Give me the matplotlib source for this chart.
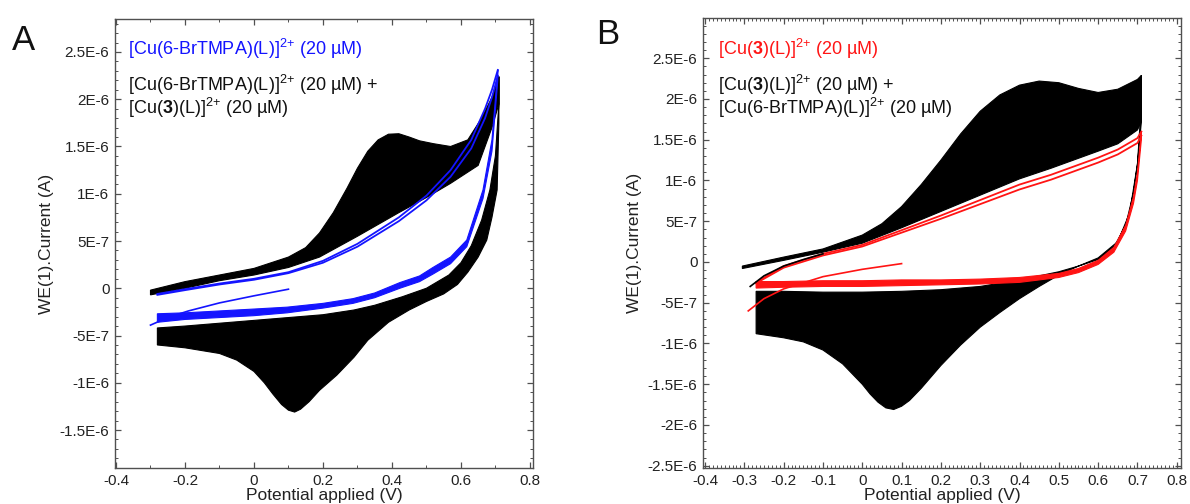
import numpy as np
import matplotlib
matplotlib.use("Agg")
import matplotlib.pyplot as plt
from matplotlib.ticker import MultipleLocator, FuncFormatter

plt.rcParams['font.family'] = ['Liberation Sans', 'DejaVu Sans']
plt.rcParams['mathtext.fontset'] = 'custom'
plt.rcParams['mathtext.rm'] = 'Liberation Sans'
plt.rcParams['mathtext.bf'] = 'Liberation Sans:bold'
plt.rcParams['mathtext.it'] = 'Liberation Sans:italic'

# ---- panel A data (potential in V, current in 1e-6 A) ----
# black: mixture, outer = last cycle, inner = first cycle
A_ox_out_E = [-0.30, -0.20, -0.10, 0.00, 0.10, 0.15, 0.19, 0.23, 0.27, 0.30, 0.33, 0.36, 0.39,
              0.42, 0.45, 0.48, 0.52, 0.57, 0.62, 0.66, 0.69, 0.70, 0.71]
A_ox_out_I = [-0.02, 0.07, 0.14, 0.21, 0.33, 0.43, 0.585, 0.80, 1.06, 1.27, 1.45, 1.57, 1.63,
              1.635, 1.60, 1.56, 1.53, 1.50, 1.57, 1.80, 2.02, 2.12, 2.24]
A_ox_in_E = [-0.30, -0.20, -0.10, 0.00, 0.10, 0.19, 0.30, 0.42, 0.50, 0.57, 0.65, 0.69, 0.71]
A_ox_in_I = [-0.07, 0.00, 0.08, 0.14, 0.22, 0.33, 0.55, 0.80, 0.96, 1.11, 1.30, 1.70, 1.95]
A_red_out_E = [0.71, 0.71, 0.705, 0.69, 0.675, 0.65, 0.62, 0.59, 0.55, 0.50, 0.45, 0.39, 0.33,
               0.29, 0.24, 0.19, 0.16, 0.135, 0.118, 0.10, 0.08, 0.055, 0.03, 0.00, -0.05,
               -0.10, -0.20, -0.28]
A_red_out_I = [2.24, 1.75, 1.04, 0.75, 0.51, 0.33, 0.17, 0.04, -0.06, -0.14, -0.23, -0.36, -0.55,
               -0.73, -0.92, -1.08, -1.20, -1.28, -1.31, -1.29, -1.23, -1.12, -1.00, -0.88, -0.76,
               -0.69, -0.63, -0.60]
A_red_in_E = [0.71, 0.70, 0.684, 0.66, 0.63, 0.60, 0.565, 0.50, 0.43, 0.35, 0.29, 0.20, 0.10,
              0.00, -0.10, -0.20, -0.28]
A_red_in_I = [1.95, 1.40, 1.04, 0.72, 0.45, 0.27, 0.14, 0.00, -0.09, -0.18, -0.23, -0.28, -0.31,
              -0.34, -0.37, -0.40, -0.42]
# blue: [Cu(6-BrTMPA)(L)]2+ alone
A_col_ox_E = [-0.28, -0.20, -0.10, 0.00, 0.10, 0.20, 0.30, 0.42, 0.50, 0.57, 0.63, 0.67, 0.69, 0.707]
A_col_ox1_I = [-0.06, -0.01, 0.05, 0.10, 0.17, 0.29, 0.47, 0.75, 0.98, 1.25, 1.57, 1.90, 2.10, 2.31]
A_col_ox2_I = [-0.07, -0.02, 0.04, 0.09, 0.16, 0.27, 0.44, 0.71, 0.93, 1.18, 1.48, 1.80, 2.02, 2.25]
A_col_red_E = [0.707, 0.69, 0.664, 0.617, 0.57, 0.519, 0.48, 0.423, 0.35, 0.287, 0.20, 0.096,
               0.00, -0.10, -0.20, -0.28]
A_col_red_hi = [2.31, 1.57, 1.04, 0.51, 0.33, 0.22, 0.13, 0.06, -0.05, -0.11, -0.16, -0.20,
                -0.22, -0.24, -0.26, -0.27]
A_col_red_lo = [2.20, 1.45, 0.95, 0.44, 0.26, 0.15, 0.07, 0.00, -0.10, -0.16, -0.21, -0.26,
                -0.29, -0.31, -0.33, -0.36]
A_col_start_E = [0.10, 0.00, -0.10, -0.19, -0.25, -0.30]
A_col_start_I = [-0.01, -0.08, -0.155, -0.24, -0.31, -0.39]

# ---- panel B data ----
B_ox_out_E = [-0.305, -0.20, -0.10, 0.00, 0.05, 0.10, 0.15, 0.20, 0.25, 0.30, 0.35, 0.40, 0.45,
              0.50, 0.55, 0.60, 0.65, 0.70, 0.71]
B_ox_out_I = [-0.05, 0.06, 0.16, 0.33, 0.47, 0.68, 0.95, 1.25, 1.57, 1.85, 2.05, 2.17, 2.22,
              2.20, 2.13, 2.08, 2.12, 2.24, 2.29]
B_ox_in_E = [-0.305, -0.20, -0.10, 0.00, 0.10, 0.20, 0.30, 0.40, 0.48, 0.60, 0.65, 0.70, 0.71]
B_ox_in_I = [-0.08, 0.02, 0.12, 0.23, 0.42, 0.62, 0.82, 1.02, 1.15, 1.36, 1.45, 1.62, 1.72]
B_red_out_E = [0.71, 0.708, 0.70, 0.68, 0.65, 0.60, 0.55, 0.50, 0.45, 0.40, 0.35, 0.30, 0.25,
               0.20, 0.15, 0.12, 0.10, 0.08, 0.06, 0.04, 0.02, 0.00, -0.05, -0.10, -0.15,
               -0.20, -0.27]
B_red_out_I = [2.29, 1.80, 1.20, 0.60, 0.25, 0.05, -0.05, -0.16, -0.30, -0.45, -0.62, -0.80, -1.02,
               -1.27, -1.55, -1.70, -1.77, -1.81, -1.79, -1.72, -1.62, -1.50, -1.25, -1.08, -0.98,
               -0.93, -0.88]
B_red_in_E = [0.71, 0.70, 0.69, 0.67, 0.64, 0.60, 0.55, 0.50, 0.40, 0.30, 0.20, 0.10, 0.00,
              -0.10, -0.20, -0.27]
B_red_in_I = [1.72, 1.20, 0.85, 0.45, 0.18, 0.03, -0.05, -0.12, -0.22, -0.30, -0.34, -0.36, -0.37,
              -0.37, -0.36, -0.36]
B_col_ox_E = [-0.27, -0.20, -0.10, 0.00, 0.10, 0.20, 0.30, 0.40, 0.48, 0.60, 0.65, 0.70, 0.71]
B_col_ox1_I = [-0.25, -0.05, 0.10, 0.21, 0.39, 0.57, 0.76, 0.95, 1.07, 1.28, 1.38, 1.52, 1.60]
B_col_ox2_I = [-0.26, -0.07, 0.08, 0.19, 0.36, 0.53, 0.71, 0.89, 1.01, 1.22, 1.32, 1.46, 1.55]
B_col_red_E = [0.71, 0.705, 0.70, 0.69, 0.67, 0.64, 0.60, 0.55, 0.50, 0.40, 0.30, 0.20, 0.10,
               0.00, -0.10, -0.20, -0.27]
B_col_red_hi = [1.60, 1.35, 1.10, 0.80, 0.45, 0.18, 0.02, -0.08, -0.14, -0.19, -0.21, -0.22,
                -0.22, -0.23, -0.23, -0.24, -0.24]
B_col_red_lo = [1.50, 1.25, 1.00, 0.72, 0.38, 0.12, -0.03, -0.13, -0.19, -0.25, -0.27, -0.28,
                -0.29, -0.30, -0.30, -0.31, -0.32]
B_col_start_E = [0.10, 0.00, -0.10, -0.20, -0.25, -0.29]
B_col_start_I = [-0.02, -0.09, -0.18, -0.33, -0.45, -0.60]
B_blk_start_E = [-0.285, -0.25, -0.20, -0.15, -0.10]
B_blk_start_I = [-0.30, -0.17, -0.05, 0.03, 0.10]

SUP = r'$^{2{+}}$'
LBL_A = ['[Cu(6-BrTMPA)(L)]' + SUP + ' (20 µM)',
         '[Cu(6-BrTMPA)(L)]' + SUP + ' (20 µM) +',
         r'[Cu($\mathbf{3}$)(L)]' + SUP + ' (20 µM)']
LBL_B = [r'[Cu($\mathbf{3}$)(L)]' + SUP + ' (20 µM)',
         r'[Cu($\mathbf{3}$)(L)]' + SUP + ' (20 µM) +',
         '[Cu(6-BrTMPA)(L)]' + SUP + ' (20 µM)']

U = 1e-6
BLUE = '#1414ff'
RED = '#ff1414'
FRAME = '#505050'


def band(ax, e1, i1, e2, i2, color):
    xs = list(e1) + list(e2)[::-1]
    ys = list(i1) + list(i2)[::-1]
    ax.fill(xs, np.array(ys) * U, color=color, ec=color, lw=0.8)


def yfmt(v, pos):
    if abs(v) < 1e-12:
        return '0'
    m, e = ('%.6e' % v).split('e')
    return '%gE%d' % (float(m), int(e))


def xfmt(v, pos):
    return '%g' % (round(v, 6) + 0.0)


def style(ax, xlim, ylim, xmajor, xminor, yminor):
    ax.set_xlim(*xlim)
    ax.set_ylim(*ylim)
    ax.xaxis.set_major_locator(MultipleLocator(xmajor))
    ax.xaxis.set_minor_locator(MultipleLocator(xminor))
    ax.yaxis.set_major_locator(MultipleLocator(0.5e-6))
    ax.yaxis.set_minor_locator(MultipleLocator(yminor))
    ax.xaxis.set_major_formatter(FuncFormatter(xfmt))
    ax.yaxis.set_major_formatter(FuncFormatter(yfmt))
    ax.tick_params(which='both', direction='in', top=True, right=True, colors=FRAME,
                   labelcolor='#222222', labelsize=11)
    ax.tick_params(which='major', length=4.5, width=0.9, pad=4)
    ax.tick_params(which='minor', length=2.5, width=0.7)
    for s in ax.spines.values():
        s.set_color(FRAME)
        s.set_linewidth(1.0)
    ax.set_xlabel('Potential applied (V)', fontsize=12.5, color='#222222', labelpad=0)
    ax.set_ylabel('WE(1).Current (A)', fontsize=12.5, color='#222222', labelpad=4)


fig = plt.figure(figsize=(11.9, 5.04), dpi=100)
axA = fig.add_axes([0.0966, 0.0714, 0.3513, 0.8909])
axB = fig.add_axes([0.5908, 0.0714, 0.4017, 0.8929])

# panel A
band(axA, A_ox_out_E, A_ox_out_I, A_ox_in_E, A_ox_in_I, 'black')
band(axA, A_red_out_E, A_red_out_I, A_red_in_E, A_red_in_I, 'black')
band(axA, A_col_red_E, A_col_red_hi, A_col_red_E, A_col_red_lo, BLUE)
axA.plot(A_col_ox_E, np.array(A_col_ox1_I) * U, color=BLUE, lw=1.3)
axA.plot(A_col_ox_E, np.array(A_col_ox2_I) * U, color=BLUE, lw=1.3)
axA.plot(A_col_start_E, np.array(A_col_start_I) * U, color=BLUE, lw=1.2)
style(axA, (-0.403, 0.809), (-1.902e-6, 2.849e-6), 0.2, 0.1, 1e-7)

# panel B
band(axB, B_ox_out_E, B_ox_out_I, B_ox_in_E, B_ox_in_I, 'black')
band(axB, B_red_out_E, B_red_out_I, B_red_in_E, B_red_in_I, 'black')
band(axB, B_col_red_E, B_col_red_hi, B_col_red_E, B_col_red_lo, RED)
axB.plot(B_col_ox_E, np.array(B_col_ox1_I) * U, color=RED, lw=1.3)
axB.plot(B_col_ox_E, np.array(B_col_ox2_I) * U, color=RED, lw=1.3)
axB.plot(B_blk_start_E, np.array(B_blk_start_I) * U, color='black', lw=1.2)
axB.plot(B_col_start_E, np.array(B_col_start_I) * U, color=RED, lw=1.2)
style(axB, (-0.405, 0.811), (-2.528e-6, 2.994e-6), 0.1, 0.01, 1e-7)

# annotations (baselines in pixels from the top: 55, 92, 114)
for ax, lbls, col, top in [(axA, LBL_A, BLUE, 19), (axB, LBL_B, RED, 18)]:
    h = 468 - top
    for k, (lbl, base) in enumerate(zip(lbls, (55, 91, 114))):
        ax.text(0.031, (468 - base) / h, lbl, transform=ax.transAxes,
                color=col if k == 0 else '#111111', fontsize=13, va='baseline')

fig.text(0.010, 0.900, 'A', fontsize=25, color='#111111')
fig.text(0.501, 0.912, 'B', fontsize=25, color='#111111')

fig.savefig('out.png', dpi=100)
